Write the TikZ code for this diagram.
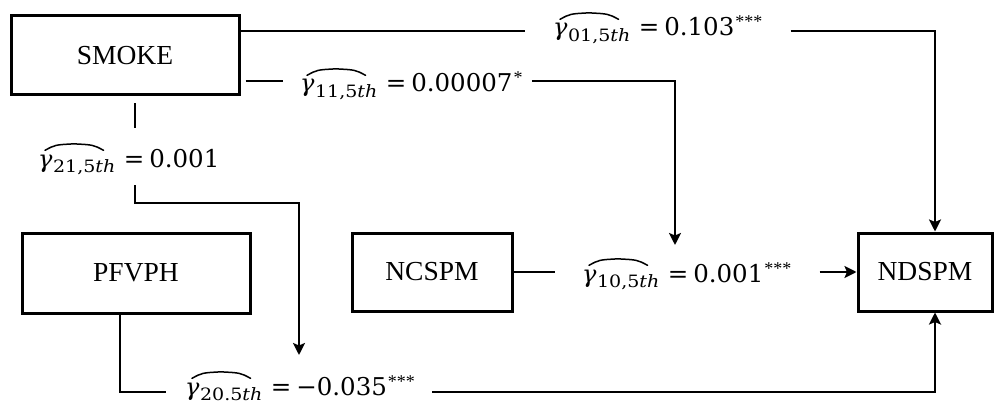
\documentclass[tikz,border=0pt]{standalone}
\usepackage{fontspec}
\usepackage{graphicx}
\setmainfont{Liberation Serif}
\newfontfamily\lf{DejaVu Serif}
\usetikzlibrary{arrows.meta,calc}
\newcommand{\gm}[1]{{\lf\fontsize{24}{24}\selectfont\itshape γ}\kern0.5pt\raisebox{-5.5pt}{\scalebox{1.12}[1]{\lf\fontsize{17}{17}\selectfont #1}}}
\newcommand{\val}[2]{{\lf\fontsize{24.5}{24.5}\selectfont =\kern5pt#1}\kern1pt\raisebox{8pt}{\fontsize{18}{18}\selectfont #2}}
\newcommand{\drawhat}[1]{%
  \draw[hatline] ($(#1.north west)+(7,-4)$)
    .. controls ($(#1.north west)+(17,-9.5)$) .. ($(#1.north west)!0.5!(#1.north east)+(-3,-10.5)$)
    .. controls ($(#1.north east)+(-22,-9.5)$) .. ($(#1.north east)+(-12,-4)$);}
\begin{document}
\begin{tikzpicture}[x=1pt,y=-1pt,
  box/.style={draw, line width=3pt, inner sep=0pt, font=\fontsize{27.5}{30}\selectfont},
  conn/.style={line width=2.6pt},
  arr/.style={line width=2.6pt, -{Stealth[length=12pt,width=12pt,inset=2.5pt]}},
  lbl/.style={inner sep=0pt, anchor=base west},
  hatline/.style={line width=1.5pt, line cap=round}]
\useasboundingbox (0,0) rectangle (994,404);
% boxes
\node[box, minimum width=228pt, minimum height=79pt] (smoke) at (125,55.5) {SMOKE};
\node[box, minimum width=228pt, minimum height=80pt] (pfvph) at (136,273) {PFVPH};
\node[box, minimum width=160pt, minimum height=78pt] (ncspm) at (432,272) {NCSPM};
\node[box, minimum width=134pt, minimum height=78pt] (ndspm) at (925,272) {NDSPM};
% labels
\node[lbl] (g01) at (553,36) {\gm{01,5\textit{th}}};
\node[lbl] (v01) at ($(g01.base east)+(8,0)$) {\val{0.103}{***}};
\node[lbl] (g11) at (300,92) {\gm{11,5\textit{th}}};
\node[lbl] (v11) at ($(g11.base east)+(8,0)$) {\val{0.00007}{*}};
\node[lbl] (g21) at (38,167) {\gm{21,5\textit{th}}};
\node[lbl] (v21) at ($(g21.base east)+(8,0)$) {\val{0.001}{}};
\node[lbl] (g10) at (582,282) {\gm{10,5\textit{th}}};
\node[lbl] (v10) at ($(g10.base east)+(8,0)$) {\val{0.001}{***}};
\node[lbl] (g20) at (185,395) {\gm{20.5\textit{th}}};
\node[lbl] (v20) at ($(g20.base east)+(8,0)$) {\val{−0.035}{***}};
\drawhat{g01}\drawhat{g11}\drawhat{g21}\drawhat{g10}\drawhat{g20}
% corners and free ends
\coordinate (k1) at (935,31);
\coordinate (k2) at (675,81);
\coordinate (t2) at (675,245);
\coordinate (k3a) at (135,203);
\coordinate (k3b) at (299,203);
\coordinate (t3) at (299,355);
\coordinate (k4a) at (120,392);
\coordinate (k4b) at (935,392);
% SMOKE -> NDSPM
\draw[conn] (smoke.east |- k1) -- ($(g01.west |- k1)+(-28,0)$);
\draw[arr] ($(v01.east |- k1)+(28,0)$) -- (k1) -- (ndspm.north -| k1);
% SMOKE -> moderation
\draw[conn] ($(smoke.east |- k2)+(5,0)$) -- ($(g11.west |- k2)+(-17,0)$);
\draw[arr] ($(v11.east |- k2)+(9,0)$) -- (k2) -- (t2);
% SMOKE -> PFVPH path
\draw[conn] ($(smoke.south -| k3a)+(0,7)$) -- (135,128);
\draw[arr] (135,185) -- (k3a) -- (k3b) -- (t3);
% PFVPH -> NDSPM
\draw[conn] (pfvph.south -| k4a) -- (k4a) -- ($(g20.west |- k4a)+(-19,0)$);
\draw[arr] ($(v20.east |- k4a)+(17,0)$) -- (k4b) -- (ndspm.south -| k4b);
% NCSPM -> NDSPM
\draw[conn] (ncspm.east) -- ($(g10.west |- ncspm.east)+(-27,0)$);
\draw[arr] ($(v10.east |- ncspm.east)+(28,0)$) -- (ndspm.west);
\end{tikzpicture}
\end{document}
